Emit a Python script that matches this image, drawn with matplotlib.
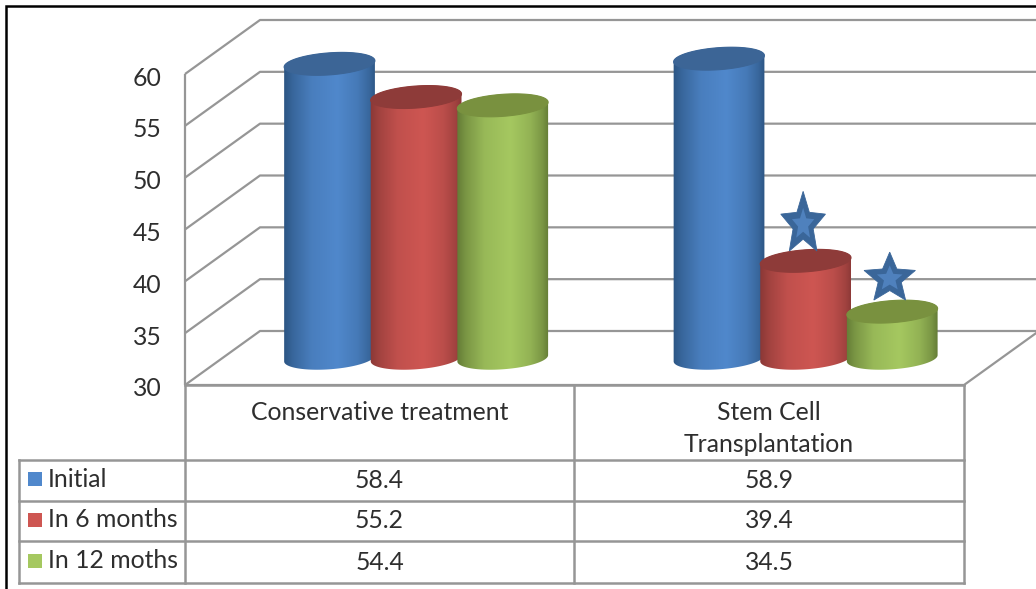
import numpy as np
import matplotlib
matplotlib.use("Agg")
import matplotlib.pyplot as plt
from matplotlib.patches import Polygon, Rectangle
from matplotlib.colors import to_rgb
from matplotlib.transforms import ScaledTranslation

# Chart data
categories = ["Conservative treatment", "Stem Cell\nTransplantation"]
series_names = ["Initial", "In 6 months", "In 12 moths"]
initial = [58.4, 58.9]
in_6_months = [55.2, 39.4]
in_12_months = [54.4, 34.5]
y_ticks = [30, 35, 40, 45, 50, 55, 60]

# Styling: face, shaded edge and cap colours per series
faces = ["#5088CC", "#CE5652", "#A5C860"]
edges = ["#2C5583", "#8A3836", "#647C36"]
caps = ["#3C6596", "#8E3B39", "#79913F"]
GRID = "#969696"
TEXT = "#2E2E2E"
FONT = "Lato"
FS = 17.8
W, H = 1036, 589

plt.rcParams["font.family"] = FONT
fig = plt.figure(figsize=(W / 100, H / 100), dpi=100, facecolor="white")

# Pixel-space layer for the frame and the data table
frame = fig.add_axes([0, 0, 1, 1], zorder=0)
frame.set_xlim(0, W)
frame.set_ylim(H, 0)
frame.axis("off")

# Value axes spanning the front wall of the 3-D box
AX_L, AX_R, AX_T, AX_B = 185, 964, 74, 385
ax = fig.add_axes([AX_L / W, 1 - AX_B / H, (AX_R - AX_L) / W, (AX_B - AX_T) / H], zorder=1)
ax.patch.set_alpha(0)
ax.set_xlim(-0.5, 1.5)
ax.set_ylim(30, 60)
ax.set_xticks([])
ax.set_yticks(y_ticks)
ax.tick_params(axis="y", length=0, pad=17, labelsize=FS, labelcolor=TEXT)
nudge = ScaledTranslation(0, -2 / 100, fig.dpi_scale_trans)
for lab in ax.get_yticklabels():
    lab.set_transform(lab.get_transform() + nudge)
for name, spine in ax.spines.items():
    spine.set_visible(False)

px_per_x = (AX_R - AX_L) / 2
px_per_y = (AX_B - AX_T) / 30
depth_x = 75 / px_per_x
depth_y = 54 / px_per_y

# Box walls and gridlines
line_kw = dict(color=GRID, lw=1.6, clip_on=False, solid_capstyle="butt", zorder=1)
for v in y_ticks:
    ax.plot([-0.5, -0.5 + depth_x, 1.5 + depth_x], [v, v + depth_y, v + depth_y], **line_kw)
ax.plot([-0.5, 1.5, 1.5 + depth_x], [30, 30, 30 + depth_y], **line_kw)
ax.plot([-0.5, -0.5], [30, 60], **line_kw)

# Cylinders
bar_half = 45.5 / px_per_x
minor = 11.0 / px_per_y
tilt = np.deg2rad(4.2)
spacing = 86.6 / px_per_x
mid_depth_x = 0.485 * depth_x
mid_depth_y = 0.495 * depth_y


def ellipse(cx, cy, t):
    # Ellipse with its right end raised, in data units
    ex = 45.5 * np.cos(t)
    ey = 11.0 * np.sin(t)
    rx = ex * np.cos(tilt) - ey * np.sin(tilt)
    ry = ex * np.sin(tilt) + ey * np.cos(tilt)
    return np.column_stack([cx + rx / px_per_x, cy + ry / px_per_y])


def shade(face, edge, n=256):
    stops = np.array([0.0, 0.10, 0.30, 0.58, 0.80, 0.93, 1.0])
    mix = np.array([0.0, 0.35, 0.80, 1.0, 0.72, 0.35, 0.0])
    m = np.interp(np.linspace(0, 1, n), stops, mix)[None, :, None]
    return np.array(to_rgb(edge))[None, None, :] * (1 - m) + np.array(to_rgb(face))[None, None, :] * m


def cylinder(x, value, face, edge, cap, z):
    cx = x + mid_depth_x
    top = value + mid_depth_y
    base = 30 + mid_depth_y
    lower = ellipse(cx, base, np.linspace(np.pi, 2 * np.pi, 60))
    upper = ellipse(cx, top, np.linspace(0, np.pi, 60))
    body = Polygon(np.vstack([lower, upper]), closed=True, transform=ax.transData,
                   facecolor="none", edgecolor="none", clip_on=False, zorder=z)
    ax.add_patch(body)
    im = ax.imshow(shade(face, edge), aspect="auto", interpolation="bilinear", zorder=z,
                   extent=[cx - bar_half * 1.01, cx + bar_half * 1.01,
                           base - minor * 1.5, top + minor * 1.5])
    im.set_clip_box(fig.bbox)
    im.set_clip_path(body)
    lid = ellipse(cx, top, np.linspace(0, 2 * np.pi, 120))
    ax.add_patch(Polygon(lid, closed=True, facecolor=cap, edgecolor=cap, lw=0.8,
                         clip_on=False, zorder=z + 0.1))


series = [initial, in_6_months, in_12_months]
for s, values in enumerate(series):
    for c, value in enumerate(values):
        cylinder(c + (s - 1) * spacing, value, faces[s], edges[s], caps[s], 3 + s)
ax.set_xlim(-0.5, 1.5)
ax.set_ylim(30, 60)


def star(cx, cy, half_w, half_h, inner_ratio=0.45, **kw):
    ang = np.pi / 2 + np.arange(10) * np.pi / 5
    rad = np.where(np.arange(10) % 2 == 0, 1.0, inner_ratio)
    pts = np.column_stack([cx + half_w * rad * np.cos(ang) / px_per_x,
                           cy + half_h * rad * np.sin(ang) / px_per_y])
    ax.add_patch(Polygon(pts, closed=True, clip_on=False, zorder=8, **kw))


# Significance stars above the changed Stem Cell bars
for s, half_w, half_h, lift in [(1, 23.5, 33, 36.5), (2, 27, 26.5, 33)]:
    sx = 1 + (s - 1) * spacing + mid_depth_x - 2.5 / px_per_x
    sy = series[s][1] + mid_depth_y + lift / px_per_y
    star(sx, sy, half_w, half_h, facecolor="#3A6699", edgecolor="#3A6699", lw=0.6)
    star(sx, sy, half_w * 0.5, half_h * 0.5, facecolor="#4F81BD", edgecolor="none")

# Data table
C0, C1, C2, C3 = 19, AX_L, 574, AX_R
R0, R1, R2, R3, R4 = AX_B, 460, 500.5, 541, 583
tbl = dict(color=GRID, lw=1.8, solid_capstyle="projecting")
frame.plot([C1, C3], [R0, R0], **tbl)
for y in (R1, R2, R3, R4):
    frame.plot([C0, C3], [y, y], **tbl)
frame.plot([C0, C0], [R1, R4], **tbl)
for x in (C1, C2, C3):
    frame.plot([x, x], [R0, R4], **tbl)

for x0, x1, label in zip((C1, C2), (C2, C3), categories):
    if "\n" in label:
        first, second = label.split("\n")
        frame.text((x0 + x1) / 2, 413, first, ha="center", va="center", fontsize=FS, color=TEXT)
        frame.text((x0 + x1) / 2, 445, second, ha="center", va="center", fontsize=FS, color=TEXT)
    else:
        frame.text((x0 + x1) / 2, 413, label, ha="center", va="center", fontsize=FS, color=TEXT)

rows = [(R1, R2), (R2, R3), (R3, R4)]
for (y0, y1), name, face, values in zip(rows, series_names, faces, series):
    ym = (y0 + y1) / 2
    frame.add_patch(Rectangle((28, ym - 8), 14, 14, facecolor=face, edgecolor="none"))
    frame.text(48, ym - 1, name, ha="left", va="center", fontsize=FS, color=TEXT)
    for (x0, x1), v in zip(((C1, C2), (C2, C3)), values):
        frame.text((x0 + x1) / 2, ym, f"{v:.1f}", ha="center", va="center", fontsize=FS, color=TEXT)

# Outer black border
frame.plot([6, 6, W], [H, 6, 6], color="black", lw=1.8, solid_joinstyle="miter")

fig.savefig("out.png", dpi=100, facecolor="white")
